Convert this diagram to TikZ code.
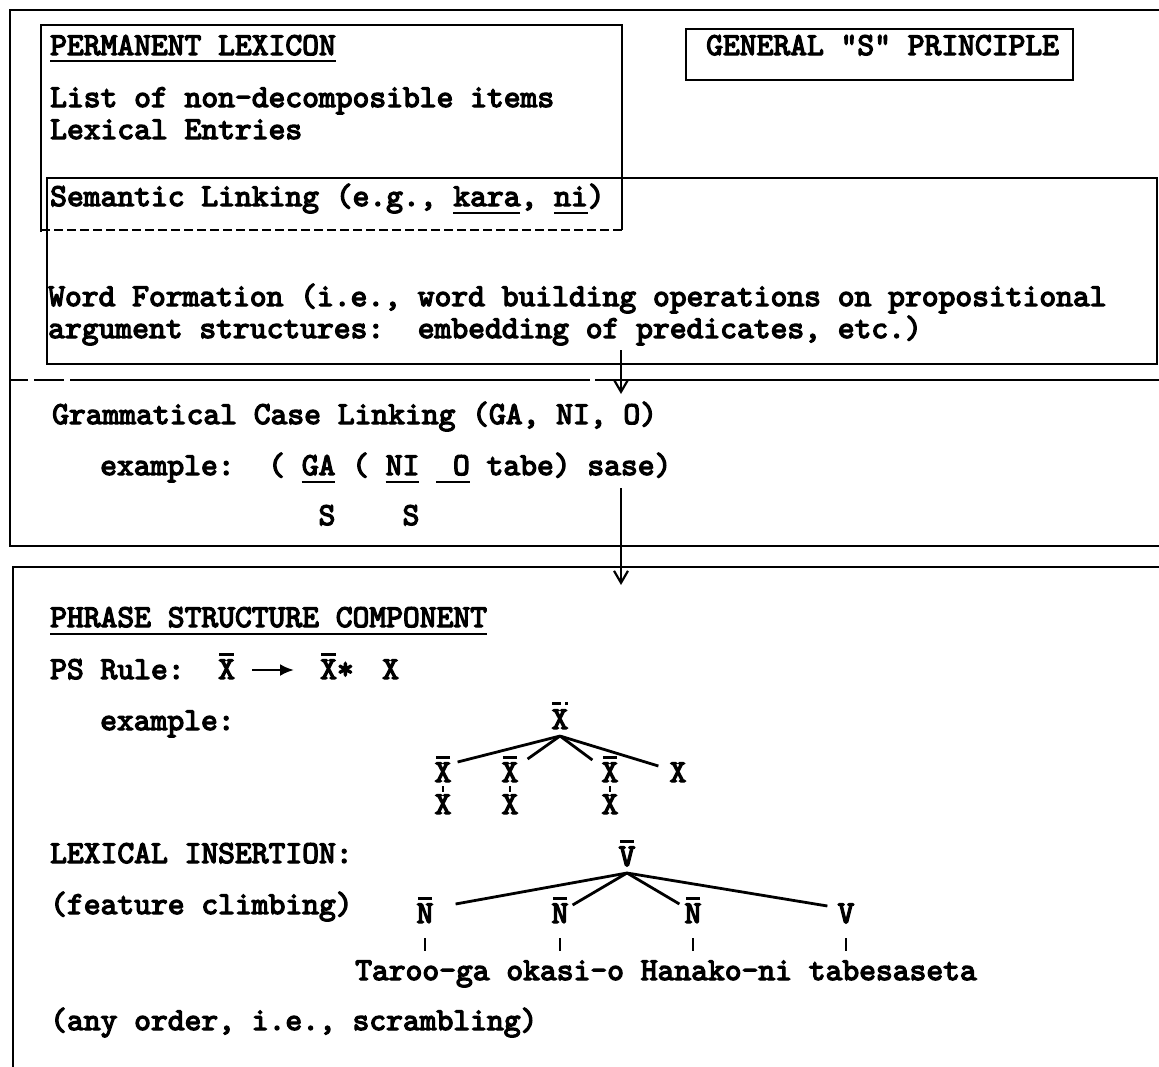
\documentclass[tikz,border=0pt]{standalone}
\usepackage{fontspec}
\newfontfamily\twr{lmmono10-regular}[Extension=.otf, FakeBold=4, BoldFont=lmmono10-regular]
\usetikzlibrary{arrows.meta,calc}
\newcommand\barred[1]{\setbox0\hbox{#1}\rlap{\raise 23pt\hbox to \wd0{\hss\vrule width 0.85\wd0 height 2.6pt depth 0pt\hss}}\box0}
\newcommand\dbarred[1]{\setbox0\hbox{#1}\rlap{\raise 24pt\hbox to \wd0{\hss\vrule width 9pt height 2.6pt depth 0pt\hskip 4pt\vrule width 3pt height 2.8pt depth 0pt\hss}}\box0}
\tikzset{
  txt/.style={font=\fontsize{32}{38}\selectfont\twr\bfseries\frenchspacing, inner sep=0pt, anchor=base west},
  tn/.style={font=\fontsize{32}{38}\selectfont\twr\bfseries, inner sep=0pt, anchor=base},
  ln/.style={line width=2.2pt, black},
  tl/.style={line width=2.8pt, black},
  ul/.style={line width=2pt, black},
  dsh/.style={ln, dash pattern=on 9pt off 4pt},
  longdsh/.style={ln, dash pattern=on 18pt off 6pt on 30pt off 6pt on 520pt off 5pt on 600pt off 5pt},
  tick/.style={line width=2pt, black},
  arr/.style={ln, -{Straight Barb[length=12pt,width=14pt]}},
}
\begin{document}
\begin{tikzpicture}[x=1pt,y=-1pt]
\useasboundingbox (0,0) rectangle (1159,1066);
% outer frame
\draw[ln] (1170,10) -- (10,10) -- (10,546) -- (1170,546);
\draw[longdsh] (10,380) -- (1170,380);
% permanent lexicon box
\draw[ln] (41,232) -- (41,25) -- (622,25) -- (622,230);
\draw[dsh] (41,230) -- (622,230);
% word formation box
\draw[ln] (47,178) rectangle (1157,364);
% general S box
\draw[ln] (686,29) rectangle (1073,80);
% phrase structure box
\draw[ln] (1170,567) -- (13,567) -- (13,1075);

\node[txt] (pl) at (50,55) {PERMANENT LEXICON};
\draw[ul] ($(pl.base west)+(0,6)$) -- ($(pl.base east)+(0,6)$);
\node[txt] (l1) at (50,107) {List of non-decomposible items};
\node[txt] (l2) at (50,139) {Lexical Entries};
\node[txt] (gen) at (706,55) {GENERAL "S" PRINCIPLE};
\node[txt] (sem) at (50,206) {Semantic Linking (e.g., kara, ni)};
\draw[ul] ($(sem.base west)+(403.2,7)$) -- ++(67.2,0);
\draw[ul] ($(sem.base west)+(504,7)$) -- ++(33.6,0);
\node[txt] (wf1) at (48,306) {Word Formation (i.e., word building operations on propositional};
\node[txt] (wf2) at (48,338) {argument structures:\ \ embedding of predicates, etc.)};

\node[txt] (gcl) at (52,424) {Grammatical Case Linking (GA, NI, O)};
\node[txt] (ex1) at (100,475) {example:\ \ ( GA ( NI\ \ O tabe) sase)};
\draw[ul] ($(ex1.base west)+(201.6,7)$) -- ++(33.6,0);
\draw[ul] ($(ex1.base west)+(285.6,7)$) -- ++(33.6,0);
\draw[ul] ($(ex1.base west)+(336,7)$) -- ++(33.6,0);
\node[txt] (ss) at (318.4,525) {S\ \ \ \ S};

\coordinate (a1s) at (621,350);
\coordinate (a1e) at (621,394);
\draw[arr] (a1s) -- (a1e);
\coordinate (a2s) at (621,488);
\coordinate (a2e) at (621,585);
\draw[arr] (a2s) -- (a2e);

\node[txt] (psc) at (50,627) {PHRASE STRUCTURE COMPONENT};
\draw[ul] ($(psc.base west)+(0,7)$) -- ($(psc.base east)+(0,7)$);
\node[txt] (psr) at (50,679) {PS Rule:};
\node[txt] (px1) at (218,679) {\barred{X}};
\node[txt] (px2) at (320,679) {\barred{X}*};
\node[txt] (px3) at (382,679) {X};
\draw[ln, line width=2.6pt, -{Latex[length=14pt,width=12pt]}] ($(px1.base east)+(17,-9)$) -- ($(px2.base west)+(-26,-9)$);
\node[txt] (ex2) at (100,730) {example:};

% tree 1
\node[tn] (r1) at (560,729) {\dbarred{X}};
\node[tn] (c1) at (443,782) {\barred{X}};
\node[tn] (c2) at (510,782) {\barred{X}};
\node[tn] (c3) at (610,782) {\barred{X}};
\node[tn] (c4) at (678,782) {X};
\node[tn] (b1) at (443,814) {X};
\node[tn] (b2) at (510,814) {X};
\node[tn] (b3) at (610,814) {X};
\coordinate (ap1) at ($(r1.base)+(0,7)$);
\draw[tl] (ap1) -- ($(c1.base east)+(6,-20)$);
\draw[tl] (ap1) -- ($(c2.base east)+(9,-23)$);
\draw[tl] (ap1) -- ($(c3.base west)+(-9,-22)$);
\draw[tl] (ap1) -- ($(c4.base west)+(-11,-16)$);
\foreach \a/\b in {c1/b1,c2/b2,c3/b3}
  \draw[tick] ($(\a.base)+(0,4)$) -- ($(\b.base)+(0,-22)$);

% lexical insertion
\node[txt] (lex1) at (50,863) {LEXICAL INSERTION:};
\node[txt] (lex2) at (50,914) {(feature climbing)};
\node[tn] (vr) at (627,866) {\barred{V}};
\node[tn] (n1) at (425,923) {\barred{N}};
\node[tn] (n2) at (560,923) {\barred{N}};
\node[tn] (n3) at (693,923) {\barred{N}};
\node[tn] (vv) at (846,923) {V};
\coordinate (ap2) at ($(vr.base)+(0,7)$);
\draw[tl] (ap2) -- ($(n1.base east)+(22,-19)$);
\draw[tl] (ap2) -- ($(n2.base east)+(4,-18)$);
\draw[tl] (ap2) -- ($(n3.base west)+(-5,-19)$);
\draw[tl] (ap2) -- ($(vv.base west)+(-10,-17)$);
\node[txt] (words) at (355,980) {Taroo-ga okasi-o Hanako-ni tabesaseta};
\foreach \a in {n1,n2,n3,vv}
  \draw[tick] ($(\a.base)+(0,15)$) -- ($(\a.base)+(0,28)$);
\node[txt] (scr) at (50,1030) {(any order, i.e., scrambling)};
\end{tikzpicture}
\end{document}
